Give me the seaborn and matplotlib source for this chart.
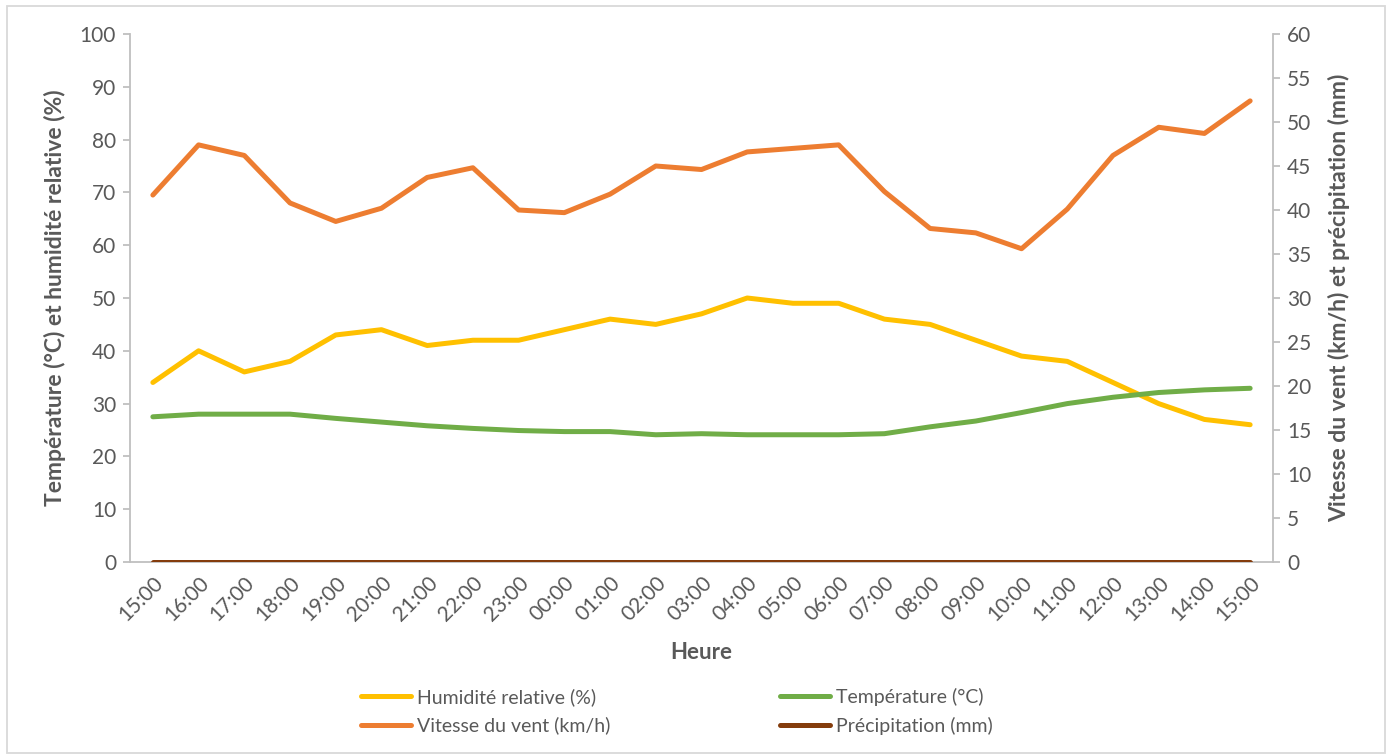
import matplotlib
matplotlib.use("Agg")
import matplotlib.pyplot as plt
import seaborn as sns
import numpy as np
from matplotlib.patches import Rectangle

# hours of the observation period (24 h)
heures = ['15:00', '16:00', '17:00', '18:00', '19:00', '20:00', '21:00', '22:00',
          '23:00', '00:00', '01:00', '02:00', '03:00', '04:00', '05:00', '06:00',
          '07:00', '08:00', '09:00', '10:00', '11:00', '12:00', '13:00', '14:00',
          '15:00']

# left axis series
humidite = [34, 40, 36, 38, 43, 44, 41, 42, 42, 44, 46, 45, 47, 50, 49, 49,
            46, 45, 42, 39, 38, 34, 30, 27, 26]
temperature = [27.5, 28, 28, 28, 27.2, 26.5, 25.8, 25.3, 24.9, 24.7, 24.7, 24.1,
               24.3, 24.1, 24.1, 24.1, 24.3, 25.6, 26.7, 28.3, 30, 31.2, 32.1,
               32.6, 32.9]

# right axis series
vent = [41.7, 47.4, 46.2, 40.8, 38.7, 40.2, 43.7, 44.8, 40.0, 39.7, 41.8, 45.0,
        44.6, 46.6, 47.0, 47.4, 42.1, 37.9, 37.4, 35.6, 40.1, 46.2, 49.4, 48.7,
        52.4]
precipitation = [0] * 25

sns.set_theme(style='white')
plt.rcParams['font.family'] = ['Lato', 'DejaVu Sans']

grey_txt = '#595959'
grey_line = '#BFBFBF'

fig = plt.figure(figsize=(13.9, 7.55), dpi=100)
ax = fig.add_axes([130 / 1390, 1 - 562 / 755, (1273 - 130) / 1390, (562 - 34) / 755])
ax2 = ax.twinx()

pos = np.arange(len(heures))
lw = 3.6

sns.lineplot(x=pos, y=humidite, ax=ax, color='#FFC000', lw=lw,
             label='Humidité relative (%)', solid_capstyle='round')
sns.lineplot(x=pos, y=temperature, ax=ax, color='#70AD47', lw=lw,
             label='Température (°C)', solid_capstyle='round')
sns.lineplot(x=pos, y=vent, ax=ax2, color='#ED7D31', lw=lw,
             label='Vitesse du vent (km/h)', solid_capstyle='round')
sns.lineplot(x=pos, y=precipitation, ax=ax2, color='#843C0C', lw=lw,
             label='Précipitation (mm)', solid_capstyle='round')

h1, l1 = ax.get_legend_handles_labels()
h2, l2 = ax2.get_legend_handles_labels()
ax.get_legend().remove()
ax2.get_legend().remove()

ax.set_xlim(-0.5, len(heures) - 0.5)
ax.set_ylim(0, 100)
ax2.set_ylim(0, 60)
ax.set_yticks(range(0, 101, 10))
ax2.set_yticks(range(0, 61, 5))
ax.set_xticks(pos)
ax.set_xticklabels(heures, rotation=45, ha='right', rotation_mode='anchor')

for a in (ax, ax2):
    a.spines['top'].set_visible(False)
    for s in ('left', 'right', 'bottom'):
        a.spines[s].set_color(grey_line)
        a.spines[s].set_linewidth(1.3)
    a.tick_params(axis='y', colors=grey_line, labelcolor=grey_txt,
                  labelsize=15, length=5, width=1.3, pad=5)
ax.spines['right'].set_visible(False)
ax2.spines['left'].set_visible(False)
ax2.spines['bottom'].set_visible(False)
ax.tick_params(axis='x', length=0, labelcolor=grey_txt, labelsize=15, pad=8)
ax.tick_params(axis='y', left=True)
ax2.tick_params(axis='y', right=True)

ax.set_xlabel('Heure', fontsize=16, fontweight='bold', color=grey_txt, labelpad=12)
ax.set_ylabel('Température (°C) et humidité relative (%)', fontsize=16.5,
              fontweight='bold', color=grey_txt, labelpad=10)
ax2.set_ylabel('Vitesse du vent (km/h) et précipitation (mm)', fontsize=16.5,
               fontweight='bold', color=grey_txt, labelpad=12)

fig.legend([h1[0], h2[0], h1[1], h2[1]], [l1[0], l2[0], l1[1], l2[1]],
           loc='center', bbox_to_anchor=(0.487, 0.058), ncol=2, frameon=False,
           fontsize=14, labelcolor=grey_txt, handlelength=2.6, handletextpad=0.3,
           columnspacing=8.7, labelspacing=0.55)

# chart border like the spreadsheet frame
fig.patches.append(Rectangle((7 / 1390, 0.002), 1 - 12 / 1390, 1 - 8 / 755,
                             transform=fig.transFigure, fill=False,
                             edgecolor='#D9D9D9', lw=1.3))

fig.savefig('out.png', dpi=100)
